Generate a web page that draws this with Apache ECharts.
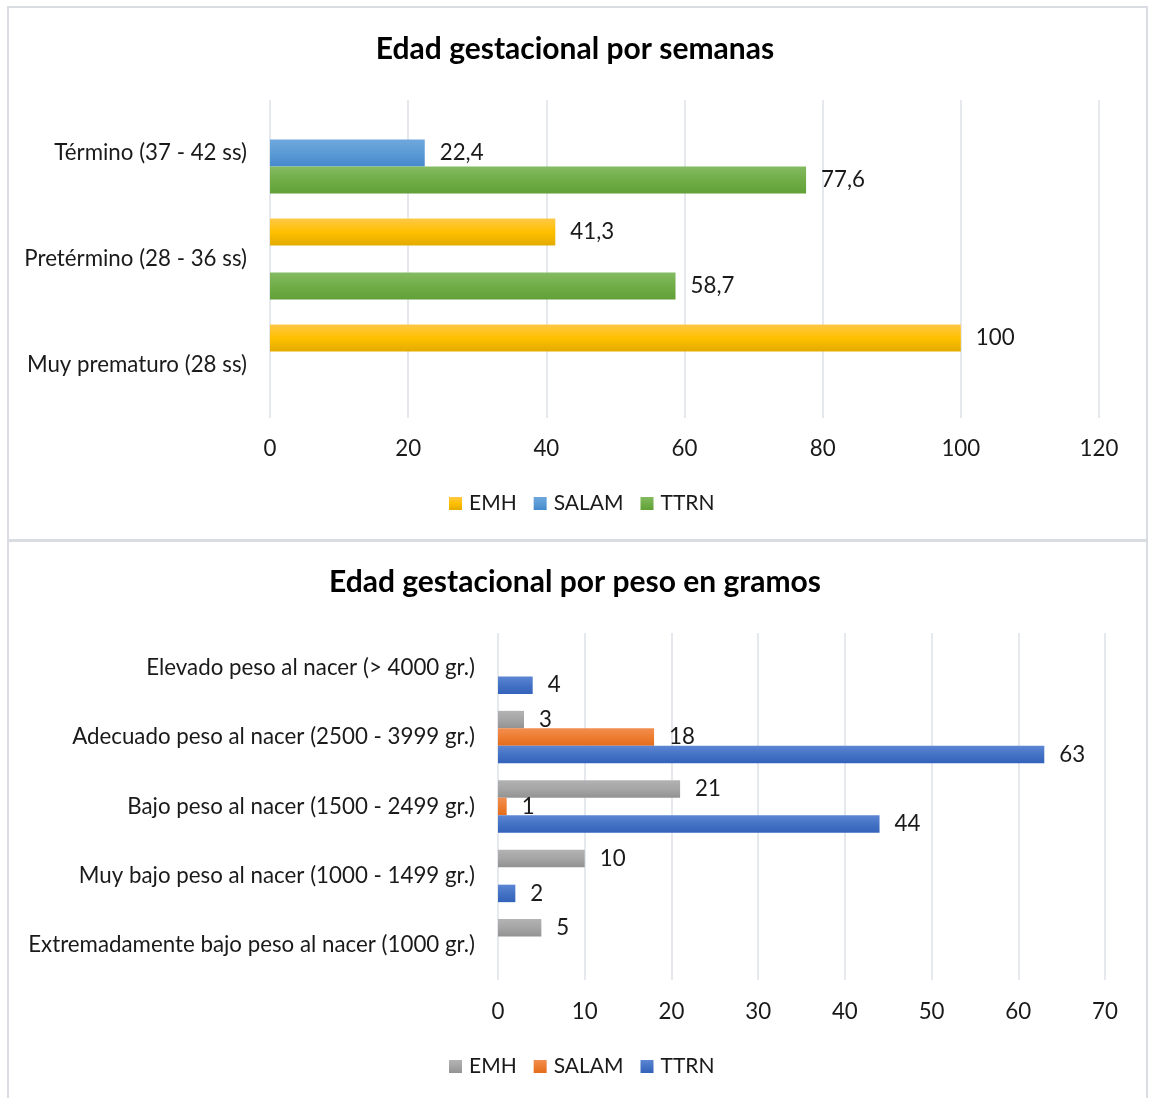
<!DOCTYPE html>
<html>
<head>
<meta charset="utf-8">
<script src="https://cdn.jsdelivr.net/npm/echarts@6/dist/echarts.min.js"></script>
<style>
  html, body { margin: 0; padding: 0; background: #fff; }
  #c1 { position: absolute; left: 0; top: 0; width: 1150px; height: 541px; }
  #c2 { position: absolute; left: 0; top: 541px; width: 1150px; height: 557px; }
</style>
</head>
<body>
<div id="c1"></div>
<div id="c2"></div>
<script>
// ---- Data: Edad gestacional por semanas ----
const weekTitle = 'Edad gestacional por semanas';
const weekCategories = ['Término (37 - 42 ss)', 'Pretérmino (28 - 36 ss)', 'Muy prematuro (28 ss)'];
const weekEMH = [null, 41.3, 100];
const weekSALAM = [22.4, null, null];
const weekTTRN = [77.6, 58.7, null];
const weekTicks = { min: 0, max: 120, interval: 20 };

// ---- Data: Edad gestacional por peso en gramos ----
const weightTitle = 'Edad gestacional por peso en gramos';
const weightCategories = [
  'Elevado peso al nacer (> 4000 gr.)',
  'Adecuado peso al nacer (2500 - 3999 gr.)',
  'Bajo peso al nacer (1500 - 2499 gr.)',
  'Muy bajo peso al nacer (1000 - 1499 gr.)',
  'Extremadamente bajo peso al nacer (1000 gr.)'
];
const weightEMH = [null, 3, 21, 10, 5];
const weightSALAM = [null, 18, 1, null, null];
const weightTTRN = [4, 63, 44, 2, null];
const weightTicks = { min: 0, max: 70, interval: 10 };

const seriesNames = ['EMH', 'SALAM', 'TTRN'];

const FONT = 'Lato';
const TXT = '#1a1a1a';
const GRID_LINE = '#DDE1E7';
const FS = 22.3;

function grad(top, mid, bot) {
  return new echarts.graphic.LinearGradient(0, 0, 0, 1, [
    { offset: 0, color: top }, { offset: 0.5, color: mid }, { offset: 1, color: bot }
  ]);
}
const topColors = [
  grad('#FFC846', '#FFC000', '#E3AB00'),
  grad('#6FA7DD', '#5B9BD5', '#4588CC'),
  grad('#84BB61', '#70AD47', '#61A037')
];
const botColors = [
  grad('#B3B3B3', '#A5A5A5', '#929292'),
  grad('#F28E51', '#ED7D31', '#E36C1C'),
  grad('#5D86D4', '#4472C4', '#3262BA')
];

function fmt(p) { return String(p.value).replace('.', ','); }

function makeOption(cfg) {
  return {
    animation: false,
    textStyle: { fontFamily: FONT },
    graphic: [{
      type: 'rect', shape: cfg.border, silent: true,
      style: { fill: 'none', stroke: '#D9DDE3', lineWidth: 2 }
    }],
    title: {
      text: cfg.title, left: 'center', top: cfg.titleTop,
      textStyle: { fontFamily: FONT, fontSize: 30, fontWeight: 'bold', color: '#000' }
    },
    legend: {
      data: seriesNames, top: cfg.legendTop, left: 444,
      itemWidth: 13, itemHeight: 13, itemGap: 17, icon: 'rect',
      textStyle: { fontFamily: FONT, fontSize: 21, color: TXT, padding: [0, 0, 0, 2] }
    },
    grid: cfg.grid,
    xAxis: {
      type: 'value', min: cfg.ticks.min, max: cfg.ticks.max, interval: cfg.ticks.interval,
      axisLine: { show: false }, axisTick: { show: false },
      splitLine: { show: true, lineStyle: { color: GRID_LINE, width: 1.5 } },
      axisLabel: { fontFamily: FONT, fontSize: FS, color: TXT, margin: cfg.xMargin }
    },
    yAxis: {
      type: 'category', data: cfg.categories, inverse: true,
      axisLine: { show: false }, axisTick: { show: false },
      axisLabel: { fontFamily: FONT, fontSize: FS, color: TXT, margin: 23 }
    },
    series: cfg.values.map((vals, i) => ({
      name: seriesNames[i], type: 'bar', data: vals,
      barWidth: cfg.barWidth, barGap: '0%',
      itemStyle: { color: cfg.colors[i] },
      label: {
        show: true, position: 'right', distance: 15, formatter: fmt,
        fontFamily: FONT, fontSize: FS, color: TXT
      }
    }))
  };
}

const c1 = echarts.init(document.getElementById('c1'));
c1.setOption(makeOption({
  title: weekTitle, titleTop: 29, legendTop: 488,
  border: { x: 8, y: 7, width: 1139, height: 533 },
  grid: { left: 270, right: 51, top: 100, height: 318, containLabel: false },
  ticks: weekTicks, xMargin: 20,
  categories: weekCategories,
  values: [weekEMH, weekSALAM, weekTTRN],
  colors: topColors, barWidth: 27
}));

const c2 = echarts.init(document.getElementById('c2'));
c2.setOption(makeOption({
  title: weightTitle, titleTop: 21, legendTop: 510,
  border: { x: 8, y: 0, width: 1139, height: 600 },
  grid: { left: 498, right: 45, top: 92, height: 347, containLabel: false },
  ticks: weightTicks, xMargin: 21,
  categories: weightCategories,
  values: [weightEMH, weightSALAM, weightTTRN],
  colors: botColors, barWidth: 17.5
}));
</script>
</body>
</html>
